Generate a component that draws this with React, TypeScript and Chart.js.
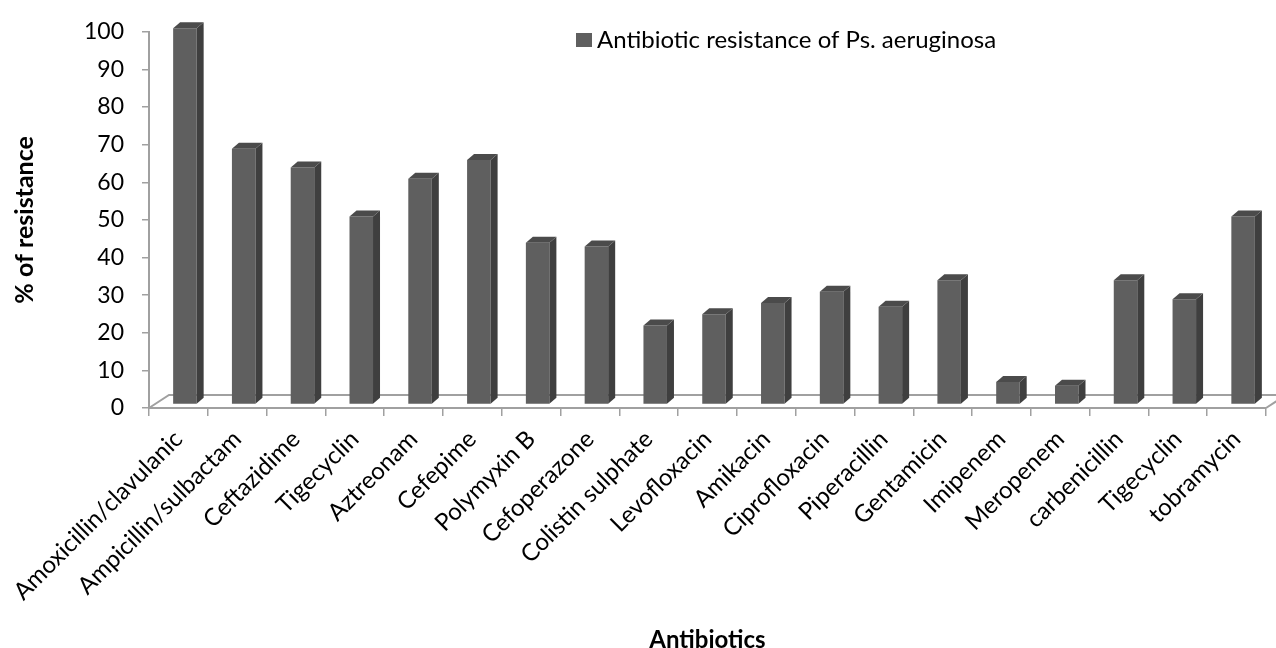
import React, { useEffect, useRef } from "react";
import { Chart, registerables } from "chart.js";

Chart.register(...registerables);

const categories = [
  "Amoxicillin/clavulanic",
  "Ampicillin/sulbactam",
  "Ceftazidime",
  "Tigecyclin",
  "Aztreonam",
  "Cefepime",
  "Polymyxin B",
  "Cefoperazone",
  "Colistin sulphate",
  "Levofloxacin",
  "Amikacin",
  "Ciprofloxacin",
  "Piperacillin",
  "Gentamicin",
  "Imipenem",
  "Meropenem",
  "carbenicillin",
  "Tigecyclin",
  "tobramycin",
];
const resistance = [100, 68, 63, 50, 60, 65, 43, 42, 21, 24, 27, 30, 26, 33, 6, 5, 33, 28, 50];
const seriesLabel = "Antibiotic resistance of Ps. aeruginosa";
const xTitle = "Antibiotics";
const yTitle = "% of resistance";

const FONT = "Lato, 'Open Sans', sans-serif";
const AXIS_COLOR = "#a0a0a0";
const FRONT = "#5f5f5f";
const SIDE = "#3f3f3f";
const TOP = "#4b4b4b";

// perspective shifts
const SHIFT_X = 6.5;
const SHIFT_Y = -3.5;
const DEPTH_X = 7;
const DEPTH_Y = -6;
const FLOOR_X = 20;
const FLOOR_Y = -13;

const threeD = {
  id: "threeD",
  beforeDatasetsDraw(chart: any) {
    const { ctx, scales } = chart;
    const x = scales.x;
    const y = scales.y;
    const y0 = y.getPixelForValue(0);
    ctx.save();
    ctx.strokeStyle = AXIS_COLOR;
    ctx.lineWidth = 2;
    ctx.beginPath();
    ctx.moveTo(x.left, y0);
    ctx.lineTo(x.left + FLOOR_X, y0 + FLOOR_Y);
    ctx.lineTo(x.right + FLOOR_X, y0 + FLOOR_Y);
    ctx.moveTo(x.right, y0);
    ctx.lineTo(x.right + FLOOR_X, y0 + FLOOR_Y);
    ctx.stroke();
    ctx.restore();
    ctx.save();
    ctx.translate(SHIFT_X, SHIFT_Y);
  },
  afterDatasetsDraw(chart: any) {
    const { ctx } = chart;
    const meta = chart.getDatasetMeta(0);
    meta.data.forEach((bar: any) => {
      const p = bar.getProps(["x", "y", "base", "width"], true);
      const x1 = p.x - p.width / 2;
      const x2 = p.x + p.width / 2;
      const yt = p.y;
      const yb = p.base;
      ctx.fillStyle = SIDE;
      ctx.beginPath();
      ctx.moveTo(x2, yt);
      ctx.lineTo(x2 + DEPTH_X, yt + DEPTH_Y);
      ctx.lineTo(x2 + DEPTH_X, yb + DEPTH_Y);
      ctx.lineTo(x2, yb);
      ctx.closePath();
      ctx.fill();
      ctx.fillStyle = TOP;
      ctx.beginPath();
      ctx.moveTo(x1, yt);
      ctx.lineTo(x2, yt);
      ctx.lineTo(x2 + DEPTH_X, yt + DEPTH_Y);
      ctx.lineTo(x1 + DEPTH_X, yt + DEPTH_Y);
      ctx.closePath();
      ctx.fill();
    });
    ctx.restore();
  },
};

const legendPlugin = {
  id: "customLegend",
  afterDraw(chart: any) {
    const { ctx } = chart;
    ctx.save();
    ctx.fillStyle = FRONT;
    ctx.fillRect(576, 33, 16, 14);
    ctx.fillStyle = "#000";
    ctx.font = `24px ${FONT}`;
    ctx.textAlign = "left";
    ctx.textBaseline = "alphabetic";
    ctx.fillText(chart.data.datasets[0].label, 597, 48);
    ctx.restore();
  },
};

export default function App() {
  const ref = useRef<HTMLCanvasElement | null>(null);

  useEffect(() => {
    if (!ref.current) return;
    const chart = new Chart(ref.current, {
      type: "bar",
      data: {
        labels: categories,
        datasets: [
          {
            label: seriesLabel,
            data: resistance,
            backgroundColor: FRONT,
            borderWidth: 0,
            categoryPercentage: 1,
            barPercentage: 0.4,
            clip: false as any,
          },
        ],
      },
      options: {
        responsive: false,
        animation: false,
        devicePixelRatio: 1,
        layout: { padding: { top: 28, right: 10, left: 0, bottom: 0 } },
        plugins: {
          legend: { display: false },
          tooltip: { enabled: false },
        },
        scales: {
          x: {
            grid: {
              display: true,
              drawOnChartArea: false,
              drawTicks: true,
              tickLength: 8,
              color: AXIS_COLOR,
              lineWidth: 1.5,
              offset: true,
            },
            border: { display: true, color: AXIS_COLOR, width: 2 },
            ticks: {
              autoSkip: false,
              minRotation: 45,
              maxRotation: 45,
              padding: 9,
              color: "#000",
              font: { family: FONT, size: 24 },
            },
            title: {
              display: true,
              text: xTitle,
              color: "#000",
              font: { family: FONT, size: 24, weight: "bold", lineHeight: 1 },
              padding: { top: 0, bottom: -4 },
            },
            afterFit: (s: any) => {
              s.height = 240;
              s.paddingLeft = 0;
              s.paddingRight = 0;
            },
          },
          y: {
            min: 0,
            max: 100,
            ticks: {
              stepSize: 10,
              padding: 18,
              color: "#000",
              font: { family: FONT, size: 23 },
            },
            grid: {
              display: true,
              drawOnChartArea: false,
              drawTicks: true,
              tickLength: 7,
              color: AXIS_COLOR,
              lineWidth: 1.5,
            },
            border: { display: true, color: AXIS_COLOR, width: 2 },
            title: {
              display: true,
              text: yTitle,
              color: "#000",
              font: { family: FONT, size: 25, weight: "bold", lineHeight: 1 },
              padding: { top: 12, bottom: 0 },
            },
            afterFit: (s: any) => {
              s.width = 149;
            },
          },
        },
      },
      plugins: [threeD, legendPlugin],
    });
    return () => chart.destroy();
  }, []);

  return (
    <div style={{ position: "absolute", left: 0, top: 0, width: 1276, height: 648, background: "#fff" }}>
      <canvas ref={ref} width={1276} height={648} />
    </div>
  );
}
